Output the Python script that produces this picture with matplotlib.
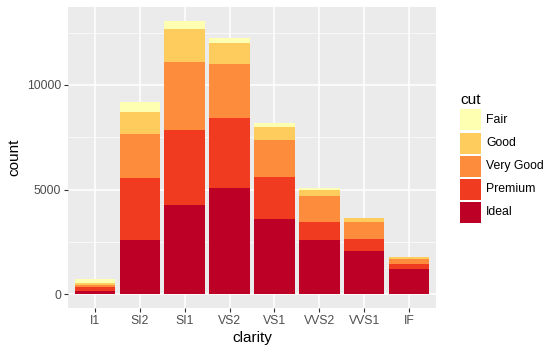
import matplotlib
matplotlib.use('Agg')
import matplotlib.pyplot as plt
from matplotlib.patches import Rectangle
import numpy as np

plt.rcParams['font.family'] = ['Liberation Sans', 'DejaVu Sans']

# diamonds: count by clarity and cut
clarity = ['I1', 'SI2', 'SI1', 'VS2', 'VS1', 'VVS2', 'VVS1', 'IF']
cuts = ['Fair', 'Good', 'Very Good', 'Premium', 'Ideal']
fair = [210, 466, 408, 261, 170, 69, 17, 9]
good = [96, 1081, 1560, 978, 648, 286, 186, 71]
very_good = [84, 2100, 3240, 2591, 1775, 1235, 789, 268]
premium = [205, 2949, 3575, 3357, 1989, 870, 616, 230]
ideal = [146, 2598, 4282, 5071, 3589, 2606, 2047, 1212]
colors = ['#FFFFB2', '#FECC5C', '#FD8D3C', '#F03B20', '#BD0026']

counts = [fair, good, very_good, premium, ideal]

fig = plt.figure(figsize=(5.56, 3.55), dpi=100)
ax = fig.add_axes([68/556, 1 - 308/355, (436 - 68)/556, (308 - 7)/355])
ax.set_facecolor('#EBEBEB')

x = np.arange(1, len(clarity) + 1)
# stack Ideal at bottom, Fair on top
bottom = np.zeros(len(clarity))
for name, vals, col in reversed(list(zip(cuts, counts, colors))):
    ax.bar(x, vals, 0.9, bottom=bottom, color=col, linewidth=0, zorder=3)
    bottom += np.array(vals)

total = bottom.max()
ax.set_ylim(-0.05 * total, 1.05 * total)
ax.set_xlim(0.4, len(clarity) + 0.6)

ax.set_xticks(x)
ax.set_xticklabels(clarity)
ax.set_yticks([0, 5000, 10000])
ax.set_yticks([2500, 7500, 12500], minor=True)
ax.grid(True, which='major', color='white', linewidth=1.1, zorder=1)
ax.grid(True, which='minor', axis='y', color='white', linewidth=0.5, zorder=1)
ax.tick_params(which='major', length=3, width=0.8, color='#333333',
               labelsize=8.8, labelcolor='#4D4D4D', pad=2)
ax.tick_params(which='minor', length=0)
for s in ax.spines.values():
    s.set_visible(False)

ax.set_xlabel('clarity', fontsize=11, labelpad=3)
ax.set_ylabel('count', fontsize=11, labelpad=4)

# legend built by hand to match ggplot layout
W, H = 556, 355
fig.text(460/W, 1 - 100/H, 'cut', fontsize=11, va='center', ha='left')
for i, (name, col) in enumerate(zip(cuts, colors)):
    cy = 120 + 23 * i
    fig.add_artist(Rectangle((460/W, 1 - (cy + 10.5)/H), 21/W, 21/H,
                             transform=fig.transFigure, facecolor=col, edgecolor='none'))
    fig.text(486/W, 1 - cy/H, name, fontsize=8.8, va='center', ha='left')

fig.savefig('out.png', dpi=100)
